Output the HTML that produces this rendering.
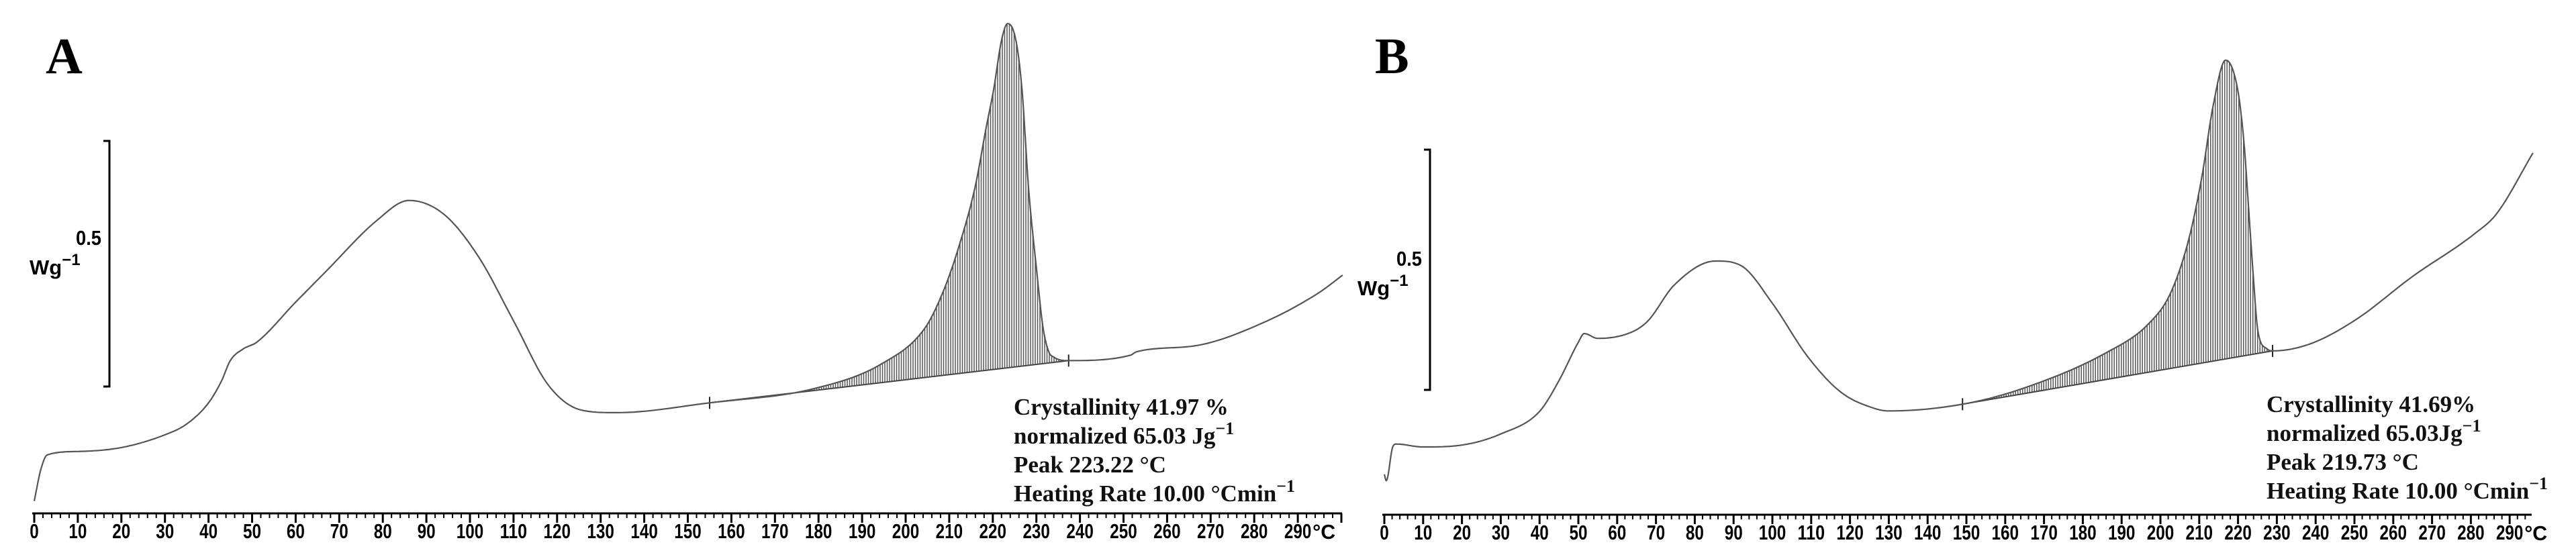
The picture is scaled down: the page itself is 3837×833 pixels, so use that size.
<!DOCTYPE html>
<html><head><meta charset="utf-8"><style>
html,body{margin:0;padding:0;background:#fff;}
svg{display:block;}
.tick{font-family:"Liberation Sans",sans-serif;font-weight:bold;font-size:31px;fill:#000;}
.stat{font-family:"Liberation Serif",serif;font-weight:bold;font-size:35px;fill:#111;}
.lbl{font-family:"Liberation Serif",serif;font-weight:bold;font-size:76px;fill:#000;}
.unit{font-family:"Liberation Sans",sans-serif;font-weight:bold;font-size:31px;fill:#000;}
</style></head><body>
<svg id="chart" width="3837" height="833" viewBox="0 0 3837 833" xmlns="http://www.w3.org/2000/svg">
<rect width="3837" height="833" fill="#fff"/>
<text class="lbl" x="68" y="109">A</text>
<text class="lbl" x="2048" y="109">B</text>
<g id="gA"></g>
<g id="gB"></g>
</svg>
<script>
// Panel A data (temperature °C, heat flow W/g relative)
const tempsA=[0,1.5,3,10,20,30,35,40,43,45,48,51,60,67,78.6,86,94,102,110,118,125.7,133.6,155,179,194.6,204.4,208.5,212,215.9,218.6,220.2,222,223.4,225.3,226.7,228.2,230.0,231.5,232.8,234,237.4,251.6,253,267,283,294.8,300.3];
const flowA=[0.025,0.089,0.119,0.126,0.134,0.160,0.182,0.225,0.270,0.311,0.335,0.348,0.430,0.493,0.596,0.637,0.609,0.522,0.392,0.261,0.210,0.205,0.225,0.254,0.305,0.377,0.449,0.537,0.663,0.791,0.863,0.963,0.997,0.963,0.863,0.663,0.500,0.380,0.330,0.318,0.311,0.322,0.329,0.342,0.392,0.449,0.485];
const baselineTA=[155,237.4];
const baselineVA=[0.225,0.311];
const statsA=["Crystallinity 41.97 %","normalized 65.03 Jg","Peak 223.22 °C","Heating Rate 10.00  °Cmin"];
// Panel B data
const tempsB=[0,0.5,2.2,3.1,10,20,30,40,45,50,51.5,55,64,68,74.7,85.4,92,100,109,117.5,126,130,149,164.6,186,196.9,202.6,207.3,210.7,213.6,216.8,219.9,221.6,222.8,224,225.1,227.5,228.9,238.4,250,265,281,286.6,296];
const flowB=[0.084,0.071,0.142,0.147,0.141,0.145,0.168,0.215,0.279,0.359,0.377,0.367,0.381,0.404,0.478,0.528,0.518,0.440,0.330,0.256,0.222,0.216,0.230,0.263,0.337,0.397,0.461,0.573,0.704,0.852,0.946,0.885,0.768,0.628,0.489,0.383,0.345,0.341,0.355,0.404,0.496,0.585,0.626,0.753];
const baselineTB=[149,228.9];
const baselineVB=[0.230,0.341];
const statsB=["Crystallinity 41.69%","normalized 65.03Jg","Peak 219.73 °C","Heating Rate 10.00 °Cmin"];
const tickLabels=[0,10,20,30,40,50,60,70,80,90,100,110,120,130,140,150,160,170,180,190,200,210,220,230,240,250,260,270,280,290];

const NS="http://www.w3.org/2000/svg";
function mk(tag,attrs,parent){const e=document.createElementNS(NS,tag);for(const k in attrs)e.setAttribute(k,attrs[k]);parent.appendChild(e);return e;}

function monotone(P){
  const n=P.length,d=[],m=[];
  for(let i=0;i<n-1;i++)d.push((P[i+1][1]-P[i][1])/(P[i+1][0]-P[i][0]));
  m[0]=d[0];m[n-1]=d[n-2];
  for(let i=1;i<n-1;i++){m[i]=(d[i-1]*d[i]<=0)?0:(d[i-1]+d[i])/2;}
  for(let i=0;i<n-1;i++){if(d[i]===0){m[i]=0;m[i+1]=0;continue;}const a=m[i]/d[i],b=m[i+1]/d[i],s=a*a+b*b;if(s>9){const t=3/Math.sqrt(s);m[i]=t*a*d[i];m[i+1]=t*b*d[i];}}
  const pts=[];
  for(let i=0;i<n-1;i++){const h=P[i+1][0]-P[i][0];
    for(let s=0;s<16;s++){const u=s/16,h00=2*u*u*u-3*u*u+1,h10=u*u*u-2*u*u+u,h01=-2*u*u*u+3*u*u,h11=u*u*u-u*u;
      pts.push([P[i][0]+u*h,h00*P[i][1]+h10*h*m[i]+h01*P[i+1][1]+h11*h*m[i+1]]);}}
  pts.push(P[n-1]);return pts;
}

function panel(g,cfg){
  const x=t=>cfg.x0+cfg.kx*t, y=v=>cfg.y0-cfg.ky*v;
  const ax=mk('line',{x1:cfg.x0-3,x2:cfg.xEnd,y1:cfg.y0,y2:cfg.y0,stroke:'#000','stroke-width':3},g);
  
  
  for(let t=0;x(t)<=cfg.xEnd;t+=2){
    const major=t%10===0;
    const tk=mk('line',{x1:x(t),x2:x(t),y1:cfg.y0,y2:cfg.y0+(major?14:7),stroke:'#000','stroke-width':major?3:2},g);
    
    
  }
  tickLabels.forEach(v=>{
    const n=String(v).length;
    const tl=mk('text',{x:x(v)-n*6.75,y:cfg.y0+37,class:'tick',textLength:n*13.5,lengthAdjust:'spacingAndGlyphs'},g);
    
    
    tl.textContent=v;
  });
  const dc=mk('text',{x:x(290)+22,y:cfg.y0+38,class:'tick','font-size':'36',textLength:34,lengthAdjust:'spacingAndGlyphs'},g);
  
  
  dc.textContent='°C';
  const sb=mk('path',{d:`M${cfg.sbx-9},${cfg.sbTop} H${cfg.sbx} V${cfg.sbBot} H${cfg.sbx-9}`,fill:'none',stroke:'#000','stroke-width':3},g);
  
  
  const s1=mk('text',{x:cfg.sbx-50,y:cfg.lblY,class:'unit',textLength:38,lengthAdjust:'spacingAndGlyphs'},g);
  
  
  s1.textContent='0.5';
  const s2=mk('text',{x:cfg.wgx,y:cfg.lblY+44,class:'unit','font-size':'34'},g);
  
  
  s2.innerHTML='Wg<tspan dy="-14" font-size="24">−1</tspan>';
  const P=cfg.T.map((t,i)=>[x(t),y(cfg.V[i])]);
  const pts=monotone(P);
  const yAt=px=>{for(let i=0;i<pts.length-1;i++){const a=pts[i],b=pts[i+1];if(a[0]<=px&&b[0]>=px){const f=b[0]===a[0]?0:(px-a[0])/(b[0]-a[0]);return a[1]+f*(b[1]-a[1]);}}return null;};
  const bx1=x(cfg.bT[0]),bx2=x(cfg.bT[1]),by1=y(cfg.bV[0]),by2=y(cfg.bV[1]);
  let hd='';
  for(let px=bx1+2;px<bx2;px+=3.5){const cy=yAt(px);const by=by1+(px-bx1)/(bx2-bx1)*(by2-by1);if(cy!==null&&cy<by-1)hd+=`M${px.toFixed(1)},${by.toFixed(1)}V${cy.toFixed(1)}`;}
  const hatch=mk('path',{d:hd,stroke:'#555','stroke-width':1.5,fill:'none'},g);
  
  
  const bl=mk('line',{x1:bx1,y1:by1,x2:bx2,y2:by2,stroke:'#444','stroke-width':2},g);
  
  
  [[bx1,by1],[bx2,by2]].forEach(([a,b])=>{
    const m=mk('line',{x1:a,x2:a,y1:b-9,y2:b+9,stroke:'#222','stroke-width':2},g);
    
    
  });
  const curve=mk('path',{d:'M'+pts.map(p=>p[0].toFixed(1)+','+p[1].toFixed(1)).join('L'),fill:'none',stroke:'#555','stroke-width':2.2},g);
  
  
  cfg.stats.forEach((s,i)=>{
    const t=mk('text',{x:cfg.sx,y:cfg.sy+i*43,class:'stat'},g);
    
    
    t.textContent=s;
    if(i===1||i===3){const sp=mk('tspan',{dy:'-14','font-size':'26'},t);sp.textContent='−1';}
  });
}
panel(document.getElementById('gA'),{x0:51,kx:6.49,y0:765,ky:732,xEnd:1999,T:tempsA,V:flowA,bT:baselineTA,bV:baselineVA,stats:statsA,sbx:163,sbTop:210,sbBot:576,lblY:365,wgx:44,sx:1510,sy:618});
panel(document.getElementById('gB'),{x0:2062,kx:5.78,y0:767,ky:716,xEnd:3771,T:tempsB,V:flowB,bT:baselineTB,bV:baselineVB,stats:statsB,sbx:2130,sbTop:223,sbBot:581,lblY:396,wgx:2022,sx:3376,sy:614});
</script>
</body></html>
